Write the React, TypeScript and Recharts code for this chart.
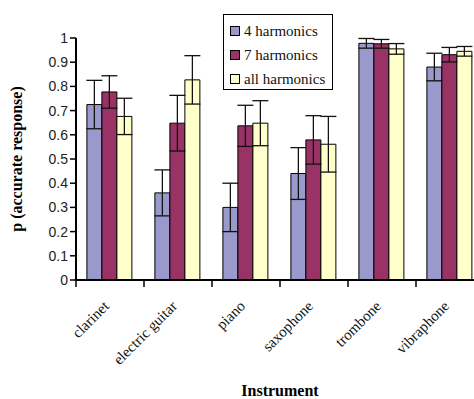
import {
  Bar,
  BarChart,
  ErrorBar,
  XAxis,
  YAxis,
} from "recharts";

const INSTRUMENTS = ["clarinet", "electric guitar", "piano", "saxophone", "trombone", "vibraphone"];
const SERIES_NAMES = ["4 harmonics", "7 harmonics", "all harmonics"];
const SERIES_COLORS = ["#9999cc", "#993366", "#ffffcc"];

const H4 = [0.725, 0.36, 0.3, 0.44, 0.978, 0.88];
const H4_ERR = [0.1, 0.095, 0.1, 0.107, 0.02, 0.057];
const H7 = [0.777, 0.648, 0.637, 0.579, 0.976, 0.931];
const H7_ERR = [0.067, 0.115, 0.085, 0.1, 0.018, 0.03];
const HALL = [0.676, 0.827, 0.648, 0.561, 0.955, 0.945];
const HALL_ERR = [0.075, 0.1, 0.093, 0.115, 0.022, 0.02];

const Y_TICKS = [0, 0.1, 0.2, 0.3, 0.4, 0.5, 0.6, 0.7, 0.8, 0.9, 1];

const data = INSTRUMENTS.map((name, i) => ({
  name,
  h4: H4[i],
  h4Err: H4_ERR[i],
  h7: H7[i],
  h7Err: H7_ERR[i],
  hall: HALL[i],
  hallErr: HALL_ERR[i],
}));

const KEYS = [
  ["h4", "h4Err"],
  ["h7", "h7Err"],
  ["hall", "hallErr"],
];

const serif = "'Liberation Serif', 'Times New Roman', serif";
const sans = "'Liberation Sans', Arial, sans-serif";

function InstrumentTick({ x, y, payload }: any) {
  const half = payload?.offset ?? 34;
  const tx = x;
  const ty = y + 19;
  return (
    <g>
      <line x1={x - half} y1={y - 8} x2={x - half} y2={y - 1} stroke="#000" strokeWidth={1.5} />
      <text
        x={tx}
        y={ty}
        textAnchor="end"
        fontFamily={serif}
        fontSize={15}
        fill="#111"
        transform={`rotate(-45, ${tx}, ${ty})`}
      >
        {payload.value}
      </text>
    </g>
  );
}

function LegendBox() {
  return (
    <div
      style={{
        position: "absolute",
        left: 223,
        top: 14,
        height: 76,
        boxSizing: "border-box",
        border: "1.5px solid #000",
        background: "#fff",
        padding: "4px 6px 0 6px",
        width: 110,
        fontFamily: serif,
        fontSize: 15,
        color: "#111",
        lineHeight: "24px",
        whiteSpace: "nowrap",
      }}
    >
      {SERIES_NAMES.map((s, i) => (
        <div key={s} style={{ display: "flex", alignItems: "center" }}>
          <span
            style={{
              display: "inline-block",
              width: 8,
              height: 8,
              border: "1px solid #000",
              background: SERIES_COLORS[i],
              marginRight: 4,
            }}
          />
          {s}
        </div>
      ))}
    </div>
  );
}

export default function App() {
  return (
    <div style={{ position: "absolute", left: 0, top: 0, width: 474, height: 399, overflow: "hidden", background: "#fff" }}>
      <BarChart
        width={490}
        height={399}
        data={data}
        margin={{ top: 38, right: 6, bottom: 0, left: 0 }}
        barCategoryGap="16%"
        barGap={0}
      >
        <XAxis
          dataKey="name"
          height={119}
          axisLine={{ stroke: "#000", strokeWidth: 2 }}
          tickLine={false}
          tick={<InstrumentTick />}
          interval={0}
          label={{
            value: "Instrument",
            position: "insideBottom",
            offset: 3,
            style: { fontFamily: serif, fontWeight: "bold", fontSize: 16, fill: "#000" },
          }}
        />
        <YAxis
          width={76}
          domain={[0, 1]}
          ticks={Y_TICKS}
          interval={0}
          axisLine={{ stroke: "#000", strokeWidth: 2 }}
          tickLine={{ stroke: "#000", strokeWidth: 1.5 }}
          tickSize={6}
          tick={{ fontFamily: sans, fontSize: 14, fill: "#222" }}
          tickFormatter={(v: number) => String(Math.round(v * 10) / 10)}
          label={{
            value: "p (accurate response)",
            angle: -90,
            position: "insideLeft",
            offset: 16,
            style: { fontFamily: serif, fontWeight: "bold", fontSize: 16, fill: "#000", textAnchor: "middle" },
          }}
        />
        {KEYS.map(([k, e], i) => (
          <Bar
            key={k}
            dataKey={k}
            name={SERIES_NAMES[i]}
            fill={SERIES_COLORS[i]}
            stroke="#000"
            strokeWidth={1}
            isAnimationActive={false}
          >
            <ErrorBar dataKey={e} width={8} stroke="#111" strokeWidth={1.3} />
          </Bar>
        ))}
      </BarChart>
      <LegendBox />
    </div>
  );
}
